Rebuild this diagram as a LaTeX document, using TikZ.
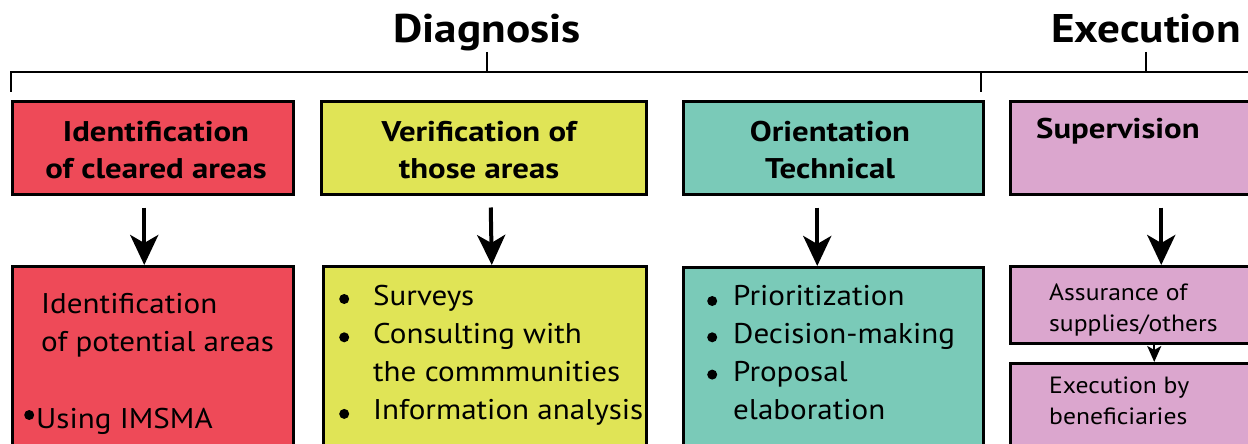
\documentclass[tikz,border=0pt]{standalone}
\usepackage{fontspec}
\setmainfont{PT Sans}[FakeStretch=1.09]
\newfontfamily\headf{PT Sans}[FakeStretch=1.15]
\newfontfamily\titlef{PT Sans}[FakeStretch=1.13]
\usetikzlibrary{arrows.meta}
\definecolor{cred}{RGB}{238,74,88}
\definecolor{cyel}{RGB}{224,228,86}
\definecolor{cteal}{RGB}{122,202,184}
\definecolor{cpink}{RGB}{219,166,206}
\newcommand\mybul[1]{\raisebox{#1}{\tikz\fill[black] (0pt,0pt) circle[radius=5pt];}}
\begin{document}
\begin{tikzpicture}[x=1pt,y=-1pt,
  box/.style={draw=black,line width=2.5pt,inner sep=0pt,anchor=north west},
  ttl/.style={font=\titlef\fontsize{40}{44}\selectfont\bfseries,anchor=base},
  head/.style={font=\headf\fontsize{28.5}{37}\selectfont\bfseries,align=center,inner sep=0pt},
  body/.style={font=\fontsize{28.5}{38.3}\selectfont,anchor=base west,inner sep=0pt},
  small/.style={font=\fontsize{23.5}{31}\selectfont,anchor=base west,inner sep=0pt},
  arr/.style={line width=4pt,-{Stealth[length=30pt,width=28pt,inset=8pt]}},
  sarr/.style={line width=2pt,-{Stealth[length=16pt,width=14pt,inset=4pt]}},
  brk/.style={line width=2.5pt}]
\useasboundingbox (0,0) rectangle (1248,444);
\clip (0,0) rectangle (1248,444);
% titles
\node[ttl] (tdiag) at (487,43) {Diagnosis};
\node[ttl] (texec) at (1146,43) {Execution};
% bracket
\coordinate (bl) at (11,92);
\coordinate (bc) at (11,72);
\coordinate (br) at (1260,72);
\coordinate (dt) at (487,52);
\coordinate (db) at (487,72);
\coordinate (mt) at (981,72);
\coordinate (mb) at (981,92);
\coordinate (et) at (1146,52);
\coordinate (eb) at (1146,72);
\draw[brk] (bl) -- (bc) -- (br);
\draw[brk] (dt) -- (db);
\draw[brk] (mt) -- (mb);
\draw[brk] (et) -- (eb);
% top boxes
\node[box,fill=cred,minimum width=281pt,minimum height=93pt] (r1) at (11,100) {};
\node[box,fill=cyel,minimum width=325pt,minimum height=93pt] (y1) at (320,100) {};
\node[box,fill=cteal,minimum width=300pt,minimum height=93pt] (t1) at (682,100) {};
\node[box,fill=cpink,minimum width=260pt,minimum height=93pt] (p1) at (1009,100) {};
\node[head] (r1t) at (156,150) {Identification\\of cleared areas};
\node[head] (y1t) at (479,150) {Verification of\\those areas};
\node[head] (t1t) at (830,150) {Orientation\\Technical};
\node[head,anchor=base west] (p1t) at (1036,138) {Supervision};
% bottom boxes
\node[box,fill=cred,minimum width=281pt,minimum height=200pt] (r2) at (11,265) {};
\node[box,fill=cyel,minimum width=323pt,minimum height=200pt] (y2) at (322,265) {};
\node[box,fill=cteal,minimum width=300pt,minimum height=200pt] (t2) at (682,266) {};
\node[box,fill=cpink,minimum width=260pt,minimum height=77pt] (p2) at (1009,265) {};
\node[box,fill=cpink,minimum width=260pt,minimum height=90pt] (p3) at (1009,362) {};
% bottom texts
\node[body] (r2a) at (41,313) {\begin{tabular}[t]{@{}l@{}}Identification\\of potential areas\end{tabular}};
\node[body] (r2b) at (24,428) {\mybul{8pt}\hspace{2pt}Using IMSMA};
\node[body] (y2t) at (339,305) {\begin{tabular}[t]{@{}l@{\hspace{24pt}}l@{}}
\mybul{1pt}&Surveys\\ \mybul{1pt}&Consulting with\\ &the commmunities\\ \mybul{1pt}&Information analysis\end{tabular}};
\node[body] (t2t) at (707,305) {\begin{tabular}[t]{@{}l@{\hspace{16pt}}l@{}}
\mybul{-1pt}&Prioritization\\ \mybul{1pt}&Decision-making\\ \mybul{2pt}&Proposal\\ &elaboration\end{tabular}};
\node[small] (p2t) at (1049,300) {\begin{tabular}[t]{@{}l@{}}Assurance of\\supplies/others\end{tabular}};
\node[small] (p3t) at (1049,393) {\begin{tabular}[t]{@{}l@{}}Execution by\\beneficiaries\end{tabular}};
% arrows
\draw[arr] ([xshift=-8.5pt,yshift=-12pt]r1.south) -- ([xshift=-8.5pt]r2.north);
\draw[arr] ([xshift=7pt,yshift=-12pt]y1.south) -- ([xshift=7pt]y2.north);
\draw[arr] ([xshift=-16pt,yshift=-12pt]t1.south) -- ([xshift=-16pt]t2.north);
\draw[arr] ([xshift=21pt,yshift=-12pt]p1.south) -- ([xshift=21pt]p2.north);
\draw[sarr] ([xshift=14pt]p2.south) -- ([xshift=14pt]p3.north);
\end{tikzpicture}
\end{document}
